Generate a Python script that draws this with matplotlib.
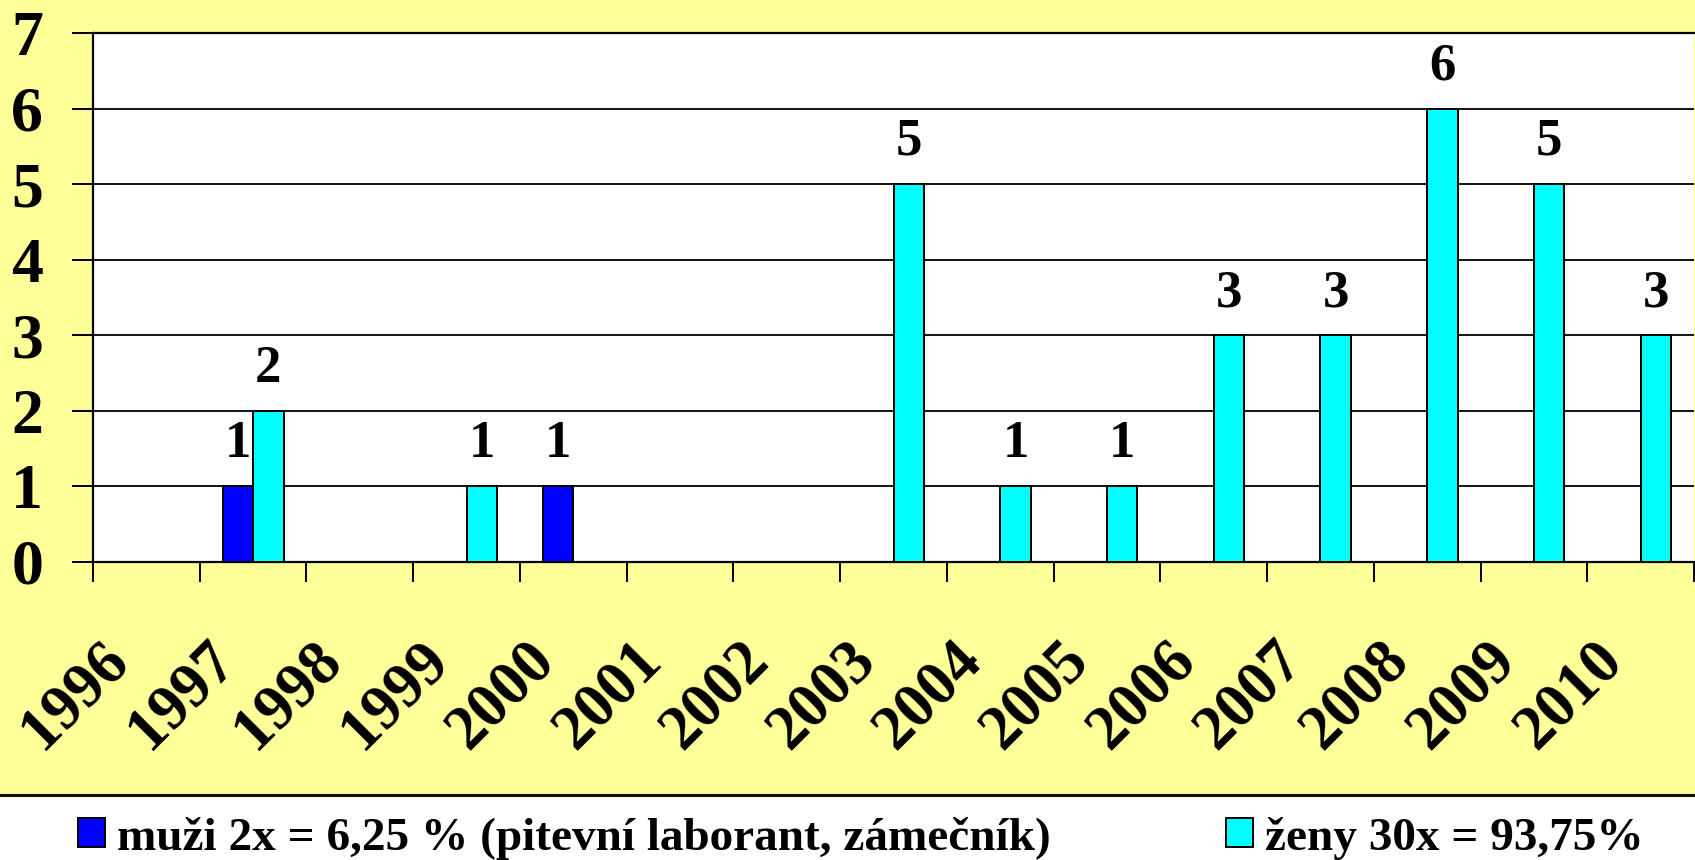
import matplotlib
matplotlib.use("Agg")
import matplotlib.pyplot as plt
import numpy as np
from matplotlib.patches import Rectangle
from matplotlib.lines import Line2D
from matplotlib.transforms import blended_transform_factory, ScaledTranslation

plt.rcParams['font.family'] = ['Liberation Serif', 'DejaVu Serif']
plt.rcParams['font.weight'] = 'bold'

years = ["1996", "1997", "1998", "1999", "2000", "2001", "2002", "2003",
         "2004", "2005", "2006", "2007", "2008", "2009", "2010"]
muzi = [0, 1, 0, 0, 1, 0, 0, 0, 0, 0, 0, 0, 0, 0, 0]
zeny = [0, 2, 0, 1, 0, 0, 0, 5, 1, 1, 3, 3, 6, 5, 3]
label_muzi = "muži 2x = 6,25 % (pitevní laborant, zámečník)"
label_zeny = "ženy 30x = 93,75%"

W, H, DPI = 1695, 860, 100
fig = plt.figure(figsize=(W / DPI, H / DPI), dpi=DPI)
fig.patch.set_facecolor('white')

# yellow chart area + bottom border line
fig.patches.append(Rectangle((0, (H - 794) / H), 1, 794 / H, transform=fig.transFigure,
                             facecolor='#FFFF99', edgecolor='none', zorder=-10))
fig.lines.append(Line2D([0, 1], [(H - 795) / H] * 2, transform=fig.transFigure,
                        color='#111111', lw=2.2))

ax = fig.add_axes([93 / W, (H - 562) / H, (1694 - 93) / W, (562 - 33) / H])
ax.set_facecolor('white')

x = np.arange(len(years))
bw = 0.285
ax.bar(x - bw / 2, muzi, bw, color='#0000FF', edgecolor='black', linewidth=1.4, zorder=3)
ax.bar(x + bw / 2, zeny, bw, color='#00FFFF', edgecolor='black', linewidth=1.4, zorder=3)

# data labels for non-zero values
for xs, vals in ((x - bw / 2, muzi), (x + bw / 2, zeny)):
    for xi, v in zip(xs, vals):
        if v:
            ax.annotate(str(v), (xi, v), xytext=(0, 21), textcoords='offset points',
                        ha='center', va='baseline', fontsize=38, fontweight='bold')

ax.set_xlim(-0.5, len(years) - 0.5)
ax.set_ylim(0, 7)
ax.set_yticks(range(8))
ax.yaxis.grid(True, color='black', lw=1.3, zorder=1)
ax.set_axisbelow(True)
ax.tick_params(axis='y', length=15, width=1.4, pad=21, labelsize=46, direction='out')
ax.set_xticks(np.arange(-0.5, len(years), 1))
ax.set_xticklabels([])
ax.tick_params(axis='x', length=14.5, width=1.4, direction='out')
for lab in ax.get_yticklabels():
    lab.set_fontweight('bold')

for s in ('left', 'bottom', 'top'):
    ax.spines[s].set_color('black')
    ax.spines[s].set_linewidth(1.6)
ax.spines['right'].set_visible(False)

# rotated category labels
trans = blended_transform_factory(ax.transData, ax.transAxes) + \
    ScaledTranslation(-27 / DPI, -90 / DPI, fig.dpi_scale_trans)
for xi, yr in zip(x, years):
    ax.text(xi, 0, yr, transform=trans, rotation=45, rotation_mode='anchor',
            ha='right', va='center', fontsize=45, fontweight='bold', clip_on=False)

# legend (two entries placed at their own positions)
fs = 34
fs_px = fs * DPI / 72
common = dict(loc='center left', frameon=False, prop={'size': fs, 'weight': 'bold'},
              handlelength=27 / fs_px, handleheight=27 / fs_px,
              handletextpad=12 / fs_px, borderpad=0, borderaxespad=0)
h_m = Rectangle((0, 0), 1, 1, facecolor='#0000FF', edgecolor='black', lw=1.4)
h_z = Rectangle((0, 0), 1, 1, facecolor='#00FFFF', edgecolor='black', lw=1.4)
leg1 = fig.legend([h_m], [label_muzi], bbox_to_anchor=(78 / W, (H - 838) / H), **common)
leg2 = fig.legend([h_z], [label_zeny], bbox_to_anchor=(1226 / W, (H - 838) / H), **common)

fig.savefig('out.png', dpi=DPI, facecolor=fig.get_facecolor())
